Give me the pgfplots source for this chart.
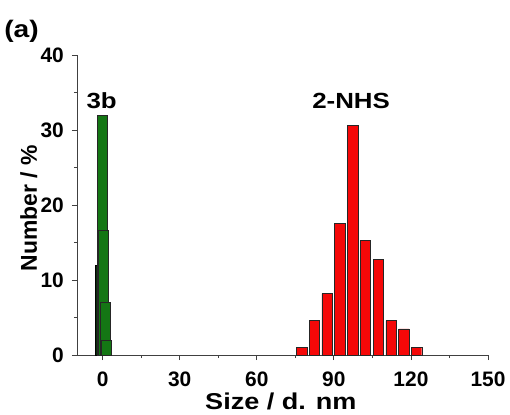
\documentclass[border=0pt]{standalone}
\usepackage{fontspec}
\setmainfont{Liberation Sans}
\newfontfamily\widefont{Liberation Sans}[FakeStretch=1.18]
\usepackage{pgfplots}
\pgfplotsset{compat=1.18}
\definecolor{barred}{RGB}{245,8,8}
\definecolor{bargreen}{RGB}{20,118,20}
\definecolor{bardark}{RGB}{12,45,12}

\begin{document}
\begin{tikzpicture}
\begin{axis}[
    scale only axis,
    width=411bp, height=300bp,
    xmin=-10, xmax=150, ymin=0, ymax=40,
    xtick={0,30,60,90,120,150},
    minor xtick={15,45,75,105,135},
    ytick={0,10,20,30,40},
    minor ytick={5,15,25,35},
    axis lines=left,
    axis line style={-, black!75, line width=0.8pt},
    tick align=outside,
    major tick length=5bp, minor tick length=3bp,
    tick style={black!75, line width=0.8pt},
    /pgf/number format/assume math mode=true,
    tick label style={font=\fontsize{21}{23}\selectfont\bfseries, inner sep=0pt},
    xticklabel shift=12bp,
    yticklabel shift=8bp,
    xlabel={\widefont\bfseries Size / d. nm},
    ylabel={Number / \%},
    xlabel style={font=\fontsize{23}{25}\selectfont, at={(rel axis cs:0.496,-0.18)}, anchor=base, inner sep=0pt},
    ylabel style={font=\fontsize{23}{25}\selectfont\bfseries, at={(rel axis cs:-0.0973,0.49)}, anchor=base, inner sep=0pt},
    clip=false,
]
% 3b: overlapping narrow bars, drawn back to front
\addplot[ybar, bar width=4, bar shift=0pt, fill=bardark, draw=black] coordinates {(-1.0,12)};
\addplot[ybar, bar width=4, bar shift=0pt, fill=bargreen, draw=black!85] coordinates {(-0.2,32)};
\addplot[ybar, bar width=4, bar shift=0pt, fill=bargreen, draw=black!85] coordinates {(0.1,16.7)};
\addplot[ybar, bar width=4, bar shift=0pt, fill=bargreen, draw=black!85] coordinates {(0.9,7)};
\addplot[ybar, bar width=4, bar shift=0pt, fill=bargreen, draw=black!85] coordinates {(1.5,2)};
% 2-NHS
\addplot[ybar, bar width=4, bar shift=0pt, fill=barred, draw=black!85] coordinates {
    (77.5,1.0) (82.4,4.6) (87.3,8.2) (92.3,17.6) (97.3,30.6)
    (102.3,15.3) (107.3,12.8) (112.2,4.6) (117.2,3.5) (122.2,1.0)};
\node[font=\fontsize{22}{24}\selectfont\widefont\bfseries, anchor=base] at (axis cs:-0.4,32.9) {3b};
\node[font=\fontsize{22}{24}\selectfont\widefont\bfseries, anchor=base] at (axis cs:96.7,32.9) {2-NHS};
\node[font=\fontsize{24}{26}\selectfont\widefont\bfseries] at (rel axis cs:-0.135,1.08) {(a)};
\coordinate (bbl) at (rel axis cs:-0.1873,-0.1967);
\coordinate (btr) at (rel axis cs:1.0535,1.1833);
\end{axis}
\pgfresetboundingbox
\path[use as bounding box] (bbl) rectangle (btr);
\end{tikzpicture}
\end{document}
